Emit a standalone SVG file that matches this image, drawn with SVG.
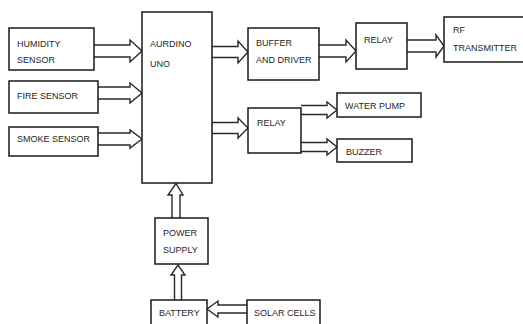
<svg xmlns="http://www.w3.org/2000/svg" width="523" height="324" viewBox="0 0 523 324">
<style>
.box{fill:#fff;stroke:#1a1a1a;stroke-width:1.5}
.arr{fill:#fff;stroke:#2a2a2a;stroke-width:1.4;stroke-linejoin:miter}
text{font-family:"Liberation Sans",Arial,sans-serif;font-size:9px;fill:#262626}
</style>
<rect width="523" height="324" fill="#fff"/>
<g id="connectors">
<path class="arr" d="M94,45 L130,45 L130,40 L142,51 L130,62 L130,57 L94,57"/>
<path class="arr" d="M98,87 L130,87 L130,83 L142,93 L130,103 L130,99 L98,99"/>
<path class="arr" d="M98,133 L130,133 L130,130 L142,139 L130,148 L130,145 L98,145"/>
<path class="arr" d="M212,46.5 L238,46.5 L238,41 L248,52 L238,63 L238,57.5 L212,57.5"/>
<path class="arr" d="M319,45 L346,45 L346,40 L356,51 L346,62 L346,57 L319,57"/>
<path class="arr" d="M407,40 L436,40 L436,35 L444,46 L436,57 L436,52 L407,52"/>
<path class="arr" d="M212,122.5 L238,122.5 L238,118 L248,128 L238,138 L238,133.5 L212,133.5"/>
<path class="arr" d="M301,105.5 L327,105.5 L327,102 L337,110 L327,118 L327,114.5 L301,114.5"/>
<path class="arr" d="M301,142.5 L327,142.5 L327,139 L337,147 L327,155 L327,151.5 L301,151.5"/>
<path class="arr" d="M172,218 L172,195 L168,195 L176,183.5 L183,195 L180,195 L180,218"/>
<path class="arr" d="M174.5,300 L174.5,275 L171,275 L178,265 L185,275 L181.5,275 L181.5,300"/>
<path class="arr" d="M247,305 L218,305 L218,301 L207,309 L218,317 L218,313 L247,313"/>
</g>
<g id="humidity"><rect class="box" x="9" y="28" width="85" height="42"/><text x="17" y="47">HUMIDITY</text><text x="17" y="63">SENSOR</text></g>
<g id="fire"><rect class="box" x="9" y="81" width="89" height="32"/><text x="17" y="99">FIRE SENSOR</text></g>
<g id="smoke"><rect class="box" x="9" y="127" width="89" height="29"/><text x="17" y="142">SMOKE SENSOR</text></g>
<g id="arduino"><rect class="box" x="142" y="12" width="70" height="171"/><text x="150" y="47">AURDINO</text><text x="150" y="67">UNO</text></g>
<g id="buffer"><rect class="box" x="248" y="28" width="71" height="52"/><text x="256" y="46">BUFFER</text><text x="256" y="63">AND DRIVER</text></g>
<g id="relay1"><rect class="box" x="356" y="23" width="51" height="46"/><text x="364" y="43">RELAY</text></g>
<g id="rf"><rect class="box" x="444" y="17" width="84" height="45"/><text x="453" y="33">RF</text><text x="453" y="51">TRANSMITTER</text></g>
<g id="relay2"><rect class="box" x="248" y="108" width="53" height="45"/><text x="257" y="126">RELAY</text></g>
<g id="waterpump"><rect class="box" x="337" y="93" width="84" height="24"/><text x="345" y="109">WATER PUMP</text></g>
<g id="buzzer"><rect class="box" x="337" y="139" width="75" height="23"/><text x="346" y="155">BUZZER</text></g>
<g id="power"><rect class="box" x="155" y="218" width="53" height="46"/><text x="163" y="236">POWER</text><text x="163" y="253">SUPPLY</text></g>
<g id="battery"><rect class="box" x="151" y="300" width="56" height="30"/><text x="159" y="316">BATTERY</text></g>
<g id="solar"><rect class="box" x="247" y="300" width="73" height="30"/><text x="254" y="316">SOLAR CELLS</text></g>
</svg>
